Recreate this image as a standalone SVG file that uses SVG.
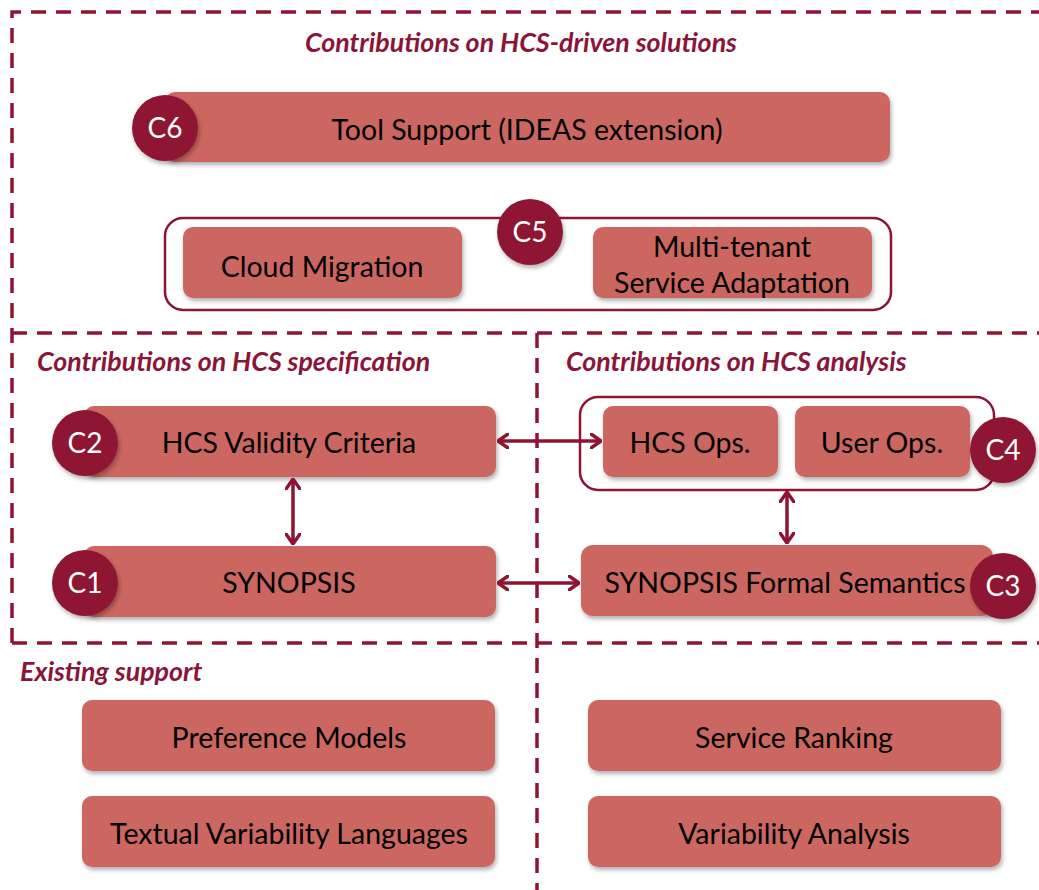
<svg xmlns="http://www.w3.org/2000/svg" width="1039" height="890" viewBox="0 0 1039 890">
  <defs>
    <filter id="shadow" x="-10%" y="-20%" width="120%" height="150%">
      <feDropShadow dx="1.5" dy="3" stdDeviation="2" flood-color="#000" flood-opacity="0.3"/>
    </filter>
    <marker id="head" viewBox="0 0 12 16" refX="11" refY="8" markerWidth="12" markerHeight="16" markerUnits="userSpaceOnUse" orient="auto-start-reverse">
      <path d="M1,1 L11,8 L1,15" fill="none" stroke="#8e1432" stroke-width="3.5" stroke-linecap="round" stroke-linejoin="round"/>
    </marker>
    <style>
      .zone { fill: none; stroke: #8e1432; stroke-width: 3.5; stroke-dasharray: 15 10; }
      .title { font-family: Lato, "Open Sans", sans-serif; font-size: 26.8px; font-weight: bold; font-style: italic; fill: #8b1538; }
      .box { fill: #cc6660; filter: url(#shadow); }
      .group { fill: #fff; stroke: #8e1432; stroke-width: 2.5; }
      .badge { fill: #8e1432; filter: url(#shadow); }
      .label { font-family: Lato, "Open Sans", sans-serif; font-size: 28.5px; fill: #000; text-anchor: middle; }
      .badge-label { font-family: Lato, "Open Sans", sans-serif; font-size: 28px; fill: #fff; text-anchor: middle; }
      .link { fill: none; stroke: #8e1432; stroke-width: 3.5; marker-start: url(#head); marker-end: url(#head); }
    </style>
  </defs>

  <rect width="1039" height="890" fill="#fff"/>

  <!-- dashed zone borders -->
  <g id="zones">
    <path class="zone" d="M12,643 L12,12 L1039,12"/>
    <path class="zone" d="M12,333 L1039,333"/>
    <path class="zone" d="M12,643 L1039,643"/>
    <path class="zone" d="M537,333 L537,890"/>
  </g>

  <!-- zone titles -->
  <g id="titles">
    <text class="title" x="521" y="52" text-anchor="middle">Contributions on HCS-driven solutions</text>
    <text class="title" x="37" y="371">Contributions on HCS specification</text>
    <text class="title" x="566" y="371">Contributions on HCS analysis</text>
    <text class="title" x="20" y="681">Existing support</text>
  </g>

  <!-- C6 -->
  <g id="c6">
    <rect class="box" x="165" y="92" width="725" height="70" rx="10"/>
    <text class="label" x="527" y="140">Tool Support (IDEAS extension)</text>
    <circle class="badge" cx="165" cy="128" r="33"/>
    <text class="badge-label" x="165" y="138">C6</text>
  </g>

  <!-- C5 -->
  <g id="c5">
    <rect class="group" x="165" y="218" width="726" height="92" rx="18"/>
    <rect class="box" x="183" y="227" width="279" height="71" rx="10"/>
    <text class="label" x="322" y="277">Cloud Migration</text>
    <rect class="box" x="593" y="227" width="279" height="71" rx="10"/>
    <text class="label" x="732" y="257">Multi-tenant</text>
    <text class="label" x="732" y="293">Service Adaptation</text>
    <circle class="badge" cx="530" cy="232" r="33"/>
    <text class="badge-label" x="530" y="242">C5</text>
  </g>

  <!-- C2 -->
  <g id="c2">
    <rect class="box" x="84" y="406" width="412" height="71" rx="10"/>
    <text class="label" x="289" y="453">HCS Validity Criteria</text>
    <circle class="badge" cx="85" cy="443" r="33"/>
    <text class="badge-label" x="85" y="453">C2</text>
  </g>

  <!-- C1 -->
  <g id="c1">
    <rect class="box" x="84" y="546" width="412" height="71" rx="10"/>
    <text class="label" x="289" y="593">SYNOPSIS</text>
    <circle class="badge" cx="85" cy="583" r="33"/>
    <text class="badge-label" x="85" y="593">C1</text>
  </g>

  <!-- C4 -->
  <g id="c4">
    <rect class="group" x="580" y="397" width="414" height="93" rx="18"/>
    <rect class="box" x="603" y="406" width="175" height="71" rx="10"/>
    <text class="label" x="690" y="453">HCS Ops.</text>
    <rect class="box" x="795" y="406" width="175" height="71" rx="10"/>
    <text class="label" x="882" y="453">User Ops.</text>
    <circle class="badge" cx="1003" cy="450" r="33"/>
    <text class="badge-label" x="1003" y="460">C4</text>
  </g>

  <!-- C3 -->
  <g id="c3">
    <rect class="box" x="581" y="545" width="412" height="71" rx="12"/>
    <text class="label" x="785" y="593">SYNOPSIS Formal Semantics</text>
    <circle class="badge" cx="1003" cy="586" r="33"/>
    <text class="badge-label" x="1003" y="596">C3</text>
  </g>

  <!-- existing support -->
  <g id="preference-models">
    <rect class="box" x="82" y="700" width="413" height="71" rx="10"/>
    <text class="label" x="289" y="748">Preference Models</text>
  </g>
  <g id="textual-variability-languages">
    <rect class="box" x="82" y="796" width="413" height="71" rx="10"/>
    <text class="label" x="289" y="844">Textual Variability Languages</text>
  </g>
  <g id="service-ranking">
    <rect class="box" x="588" y="700" width="413" height="71" rx="10"/>
    <text class="label" x="794" y="748">Service Ranking</text>
  </g>
  <g id="variability-analysis">
    <rect class="box" x="588" y="796" width="413" height="71" rx="10"/>
    <text class="label" x="794" y="844">Variability Analysis</text>
  </g>

  <!-- connectors -->
  <g id="connectors">
    <path class="link" d="M498,441 L601,441"/>
    <path class="link" d="M293,479 L293,544"/>
    <path class="link" d="M498,583 L579,583"/>
    <path class="link" d="M787,492 L787,543"/>
  </g>
</svg>
